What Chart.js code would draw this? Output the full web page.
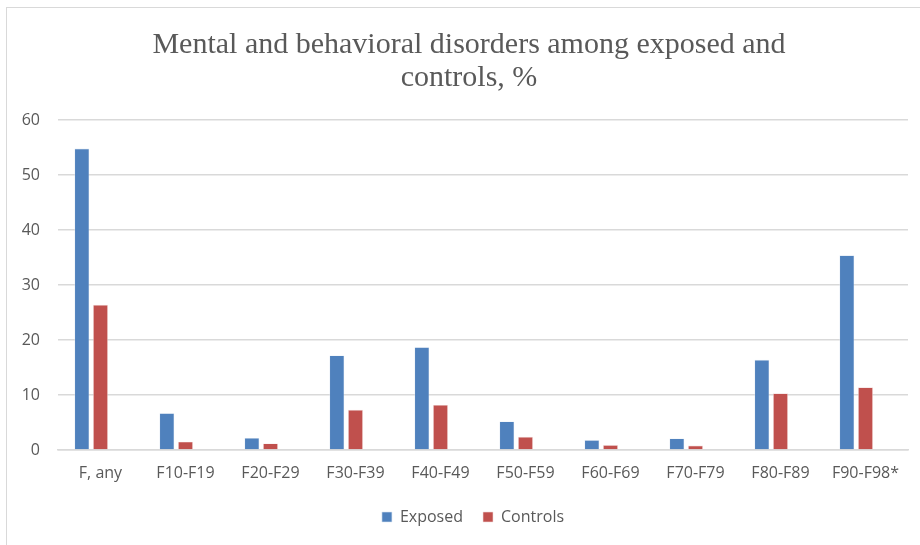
<!DOCTYPE html>
<html>
<head>
<meta charset="utf-8">
<script src="https://cdn.jsdelivr.net/npm/chart.js@4/dist/chart.umd.min.js"></script>
<style>
    html, body { margin: 0; padding: 0; background: #fff; overflow: hidden; }
    #wrap { position: relative; width: 920px; height: 545px; }
    #frame { position: absolute; left: 6px; top: 7px; width: 940px; height: 560px; border: 1.5px solid #d9d9d9; box-sizing: border-box; }
    canvas { position: absolute; left: 0; top: 0; }
</style>
</head>
<body>
<div id="wrap">
    <div id="frame"></div>
    <canvas id="chart" width="920" height="545"></canvas>
</div>
<script>
    'use strict';

    const categories = ['F, any', 'F10-F19', 'F20-F29', 'F30-F39', 'F40-F49', 'F50-F59', 'F60-F69', 'F70-F79', 'F80-F89', 'F90-F98*'];
    const exposed = [54.8, 6.7, 2.2, 17.2, 18.7, 5.2, 1.8, 2.1, 16.4, 35.4];
    const controls = [26.4, 1.5, 1.2, 7.3, 8.2, 2.4, 0.9, 0.8, 10.3, 11.4];
    // the source chart keeps an empty third series slot, which shifts each pair left
    const emptySlot = categories.map(function () { return null; });
    const yTicks = [0, 10, 20, 30, 40, 50, 60];

    const grey = '#595959';
    const gridGrey = '#d9d9d9';
    const sans = '"Open Sans", Lato, sans-serif';

    // title and legend sit a little right of the plot centre in the original
    const nudgeBlocks = {
        id: 'nudgeBlocks',
        afterLayout: function (chart) {
            if (chart.titleBlock) {
                chart.titleBlock.left += 6;
                chart.titleBlock.right += 6;
            }
            if (chart.legend) {
                chart.legend.left += 10;
                chart.legend.right += 10;
            }
        },
    };

    new Chart(document.getElementById('chart'), {
        type: 'bar',
        data: {
            labels: categories,
            datasets: [
                { label: 'Exposed', data: exposed, backgroundColor: '#4f81bd', borderColor: '#dce6f2', borderWidth: 0.6 },
                { label: 'Controls', data: controls, backgroundColor: '#c0504d', borderColor: '#f2dcdb', borderWidth: 0.6 },
                { label: '', data: emptySlot, backgroundColor: 'rgba(0,0,0,0)' },
            ],
        },
        plugins: [nudgeBlocks],
        options: {
            responsive: false,
            animation: false,
            devicePixelRatio: 1,
            categoryPercentage: 0.657,
            barPercentage: 0.8,
            layout: { padding: { left: 18, right: 12, top: 0, bottom: 10 } },
            plugins: {
                title: {
                    display: true,
                    text: ['Mental and behavioral disorders among exposed and', 'controls, %'],
                    color: grey,
                    font: { family: '"Liberation Serif", "Times New Roman", serif', size: 30, weight: 'normal', lineHeight: 1.1 },
                    padding: { top: 29, bottom: 25 },
                },
                legend: {
                    position: 'bottom',
                    labels: {
                        color: grey,
                        font: { family: sans, size: 16 },
                        boxWidth: 10,
                        boxHeight: 10,
                        padding: 20,
                        filter: function (item) { return item.text !== ''; },
                    },
                },
                tooltip: { enabled: false },
            },
            scales: {
                x: {
                    grid: { display: false, drawTicks: false },
                    border: { display: true, color: gridGrey, width: 1.5 },
                    ticks: { color: grey, font: { family: sans, size: 16 }, padding: 14, maxRotation: 0 },
                    afterFit: function (scale) { scale.height = 39; },
                },
                y: {
                    min: 0,
                    max: 60,
                    afterBuildTicks: function (scale) {
                        scale.ticks = yTicks.map(function (v) { return { value: v }; });
                    },
                    grid: { color: gridGrey, lineWidth: 1.5, drawTicks: false },
                    border: { display: false },
                    ticks: { color: grey, font: { family: sans, size: 16 }, padding: 18 },
                    afterFit: function (scale) { scale.width = 40; },
                },
            },
        },
    });
</script>
</body>
</html>
